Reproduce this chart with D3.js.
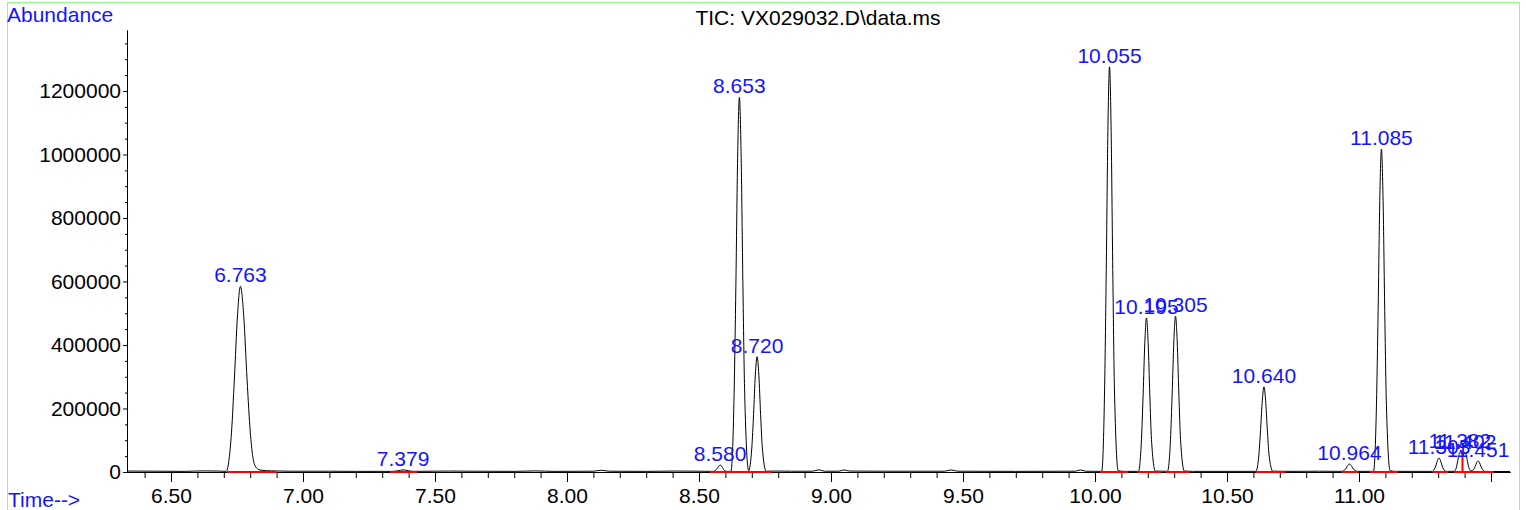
<!DOCTYPE html>
<html><head><meta charset="utf-8">
<script src="https://cdn.jsdelivr.net/npm/d3@7"></script>
<style>html,body{margin:0;padding:0;background:#fff;overflow:hidden}</style>
</head><body><svg id="c" width="1526" height="510"></svg>
<script>
// ---- data ----
const chartTitle = "TIC: VX029032.D\\data.ms";
const yAxisTitle = "Abundance";
const xAxisTitle = "Time-->";

const traceTime = [6.333,6.45,6.55,6.62,6.68,6.7085,6.729,6.740,6.7517,6.763,6.7755,6.788,6.8005,6.818,6.838,6.88,6.95,7.10,7.20,
  7.34,7.36,7.379,7.40,7.42,7.55,7.65,7.80,7.88,7.95,8.10,8.13,8.16,8.30,8.42,8.50,
  8.554,8.5635,8.569,8.5745,8.580,8.5855,8.591,8.5965,8.607,8.621,8.633,8.6397,8.6463,8.653,8.6597,8.6663,8.673,8.688,
  8.700,8.7067,8.7133,8.720,8.7267,8.7333,8.740,8.7545,8.80,8.85,8.93,8.955,8.975,9.03,9.05,9.07,9.20,9.43,9.455,9.48,9.70,9.925,9.945,9.965,
  10.0255,10.0365,10.0427,10.0488,10.055,10.0612,10.0673,10.0735,10.088,10.11,
  10.1645,10.176,10.1823,10.1887,10.195,10.2013,10.2077,10.214,10.2285,
  10.2745,10.286,10.2923,10.2987,10.305,10.3113,10.3177,10.324,10.3385,10.37,10.50,
  10.6095,10.621,10.6273,10.6337,10.640,10.6463,10.6527,10.659,10.6735,10.75,10.85,
  10.935,10.946,10.952,10.958,10.964,10.970,10.976,10.982,10.994,
  11.055,11.0662,11.0725,11.0787,11.085,11.0913,11.0975,11.1038,11.118,11.14,
  11.277,11.2865,11.292,11.2975,11.303,11.3085,11.314,11.3195,11.330,
  11.360,11.368,11.374,11.379,11.382,11.386,11.391,11.397,11.402,11.407,11.412,11.418,11.424,
  11.4345,11.440,11.4455,11.451,11.4565,11.462,11.4675,11.478,11.50,11.572];
const traceAbundance = [3000,2500,2000,3500,3000,2000,123000,292500,491000,585000,491000,292500,123000,20000,6000,3500,2500,2500,2000,
  2000,4000,6500,4000,2000,3000,2500,2000,3500,2000,2500,5500,2500,2000,3000,2500,
  2000,6600,11000,18500,22000,18500,11000,4600,2000,2000,247800,590000,991000,1180000,991000,590000,247800,5000,
  76000,181500,305000,363000,305000,181500,76000,2500,3000,2500,2500,7000,2500,2500,6500,3000,2500,2500,6500,2500,2000,2500,6500,2500,
  2000,268000,638000,1072000,1276000,1072000,638000,268000,4000,2000,
  2000,102000,242500,407400,485000,407400,242500,102000,3000,
  2000,103000,245500,412400,491000,412400,245500,103000,3000,2000,2000,
  2000,56300,134000,225000,268000,225000,134000,56300,2500,2000,2500,
  2000,6500,12500,21000,25000,21000,12500,6500,2000,
  2000,213600,508500,854300,1017000,854300,508500,213600,4000,2000,
  2000,10000,22000,37000,44000,37000,22000,10000,2000,
  2000,12000,35000,56000,62000,58000,55000,60000,61000,50000,28000,10000,3500,
  8000,17500,29500,35000,29500,17500,8000,2000,1500,1500];

const peakLabels = ["6.763","7.379","8.580","8.653","8.720","10.055","10.195","10.305","10.640","10.964","11.085","11.303","11.382","11.402","11.451"];
const peakTimes = [6.763,7.379,8.580,8.653,8.720,10.055,10.195,10.305,10.640,10.964,11.085,11.303,11.382,11.402,11.451];
const peakHeights = [585000,6500,22000,1180000,363000,1276000,485000,491000,268000,25000,1017000,44000,62000,61000,35000];

const baseStart = [6.712,7.330,8.542,10.019,10.160,10.268,10.610,10.935,11.040,11.280,11.360];
const baseEnd   = [6.900,7.432,8.777,10.125,10.250,10.360,10.720,10.996,11.148,11.337,11.510];
const dropTimes = [8.689,11.392];
const dropHeights = [5000,58000];

const xMajorTicks = [6.5,7.0,7.5,8.0,8.5,9.0,9.5,10.0,10.5,11.0,11.5];
const xTickLabels = ["6.50","7.00","7.50","8.00","8.50","9.00","9.50","10.00","10.50","11.00",""];
const xMinorTicks = [6.4,6.6,6.7,6.8,6.9,7.1,7.2,7.3,7.4,7.6,7.7,7.8,7.9,8.1,8.2,8.3,8.4,8.6,8.7,8.8,8.9,9.1,9.2,9.3,9.4,9.6,9.7,9.8,9.9,10.1,10.2,10.3,10.4,10.6,10.7,10.8,10.9,11.1,11.2,11.3,11.4];
const yMajorTicks = [0,200000,400000,600000,800000,1000000,1200000];
const yTickLabels = ["0","200000","400000","600000","800000","1000000","1200000"];
const yMinorTicks = [50000,100000,150000,250000,300000,350000,450000,500000,550000,650000,700000,750000,850000,900000,950000,1050000,1100000,1150000,1250000,1300000,1350000];

// ---- drawing ----
const FONT = "'Liberation Sans', Arial, Helvetica, sans-serif";
const FS = 21;
const svg = d3.select("#c");
const x = d3.scaleLinear().domain([6.3333, 11.572]).range([127, 1510]);
const y = d3.scaleLinear().domain([0, 1392000]).range([472, 30]);

// frame
svg.append("rect").attr("x",7.5).attr("y",2.5).attr("width",1512).attr("height",540)
  .attr("fill","none").attr("stroke","#88ff88").attr("stroke-width",1);

// axes
const gx = svg.append("g").attr("transform","translate(0,472)");
gx.append("g").call(d3.axisBottom(x).tickValues(xMinorTicks).tickSize(6).tickFormat("").tickSizeOuter(0));
gx.append("g").call(d3.axisBottom(x).tickValues(xMajorTicks).tickSize(10).tickPadding(6)
  .tickFormat((d,i)=>xTickLabels[i]).tickSizeOuter(0));
const gy = svg.append("g").attr("transform","translate(127,0)");
gy.append("g").call(d3.axisLeft(y).tickValues(yMinorTicks).tickSize(2).tickFormat("").tickSizeOuter(0));
gy.append("g").call(d3.axisLeft(y).tickValues(yMajorTicks).tickSize(4).tickPadding(2)
  .tickFormat((d,i)=>yTickLabels[i]).tickSizeOuter(0));
svg.selectAll(".domain").attr("stroke","#000").attr("stroke-width",1);
svg.selectAll(".tick line").attr("stroke","#000");
svg.selectAll(".tick text").attr("font-family",FONT).attr("font-size",FS).attr("fill","#000");

// trace
const pts = traceTime.map((t,i)=>[t, traceAbundance[i]]);
const line = d3.line().x(d=>x(d[0])).y(d=>y(d[1])).curve(d3.curveMonotoneX);
svg.append("path").attr("d", line(pts)).attr("fill","none").attr("stroke","#000").attr("stroke-width",1);

// integration baselines
svg.append("g").selectAll("line").data(baseStart).join("line")
  .attr("x1",(d)=>x(d)).attr("x2",(d,i)=>x(baseEnd[i]))
  .attr("y1",y(0)).attr("y2",y(0))
  .attr("stroke","#ff0000").attr("stroke-width",2);
svg.append("g").selectAll("line").data(dropTimes).join("line")
  .attr("x1",d=>x(d)).attr("x2",d=>x(d))
  .attr("y1",y(0)).attr("y2",(d,i)=>y(dropHeights[i]))
  .attr("stroke","#ff0000").attr("stroke-width",2);

// peak labels
svg.append("g").selectAll("text").data(peakLabels).join("text")
  .attr("x",(d,i)=>x(peakTimes[i])).attr("y",(d,i)=>y(peakHeights[i])-4)
  .attr("text-anchor","middle").attr("font-family",FONT).attr("font-size",FS)
  .attr("fill","#1414ff").text(d=>d);

// titles
svg.append("text").attr("x",818).attr("y",25).attr("text-anchor","middle")
  .attr("font-family",FONT).attr("font-size",FS).attr("fill","#000").text(chartTitle);
svg.append("text").attr("x",7).attr("y",22)
  .attr("font-family",FONT).attr("font-size",FS).attr("fill","#1414ff").text(yAxisTitle);
svg.append("text").attr("x",8).attr("y",507)
  .attr("font-family",FONT).attr("font-size",FS).attr("fill","#1414ff").text(xAxisTitle);
</script></body></html>
